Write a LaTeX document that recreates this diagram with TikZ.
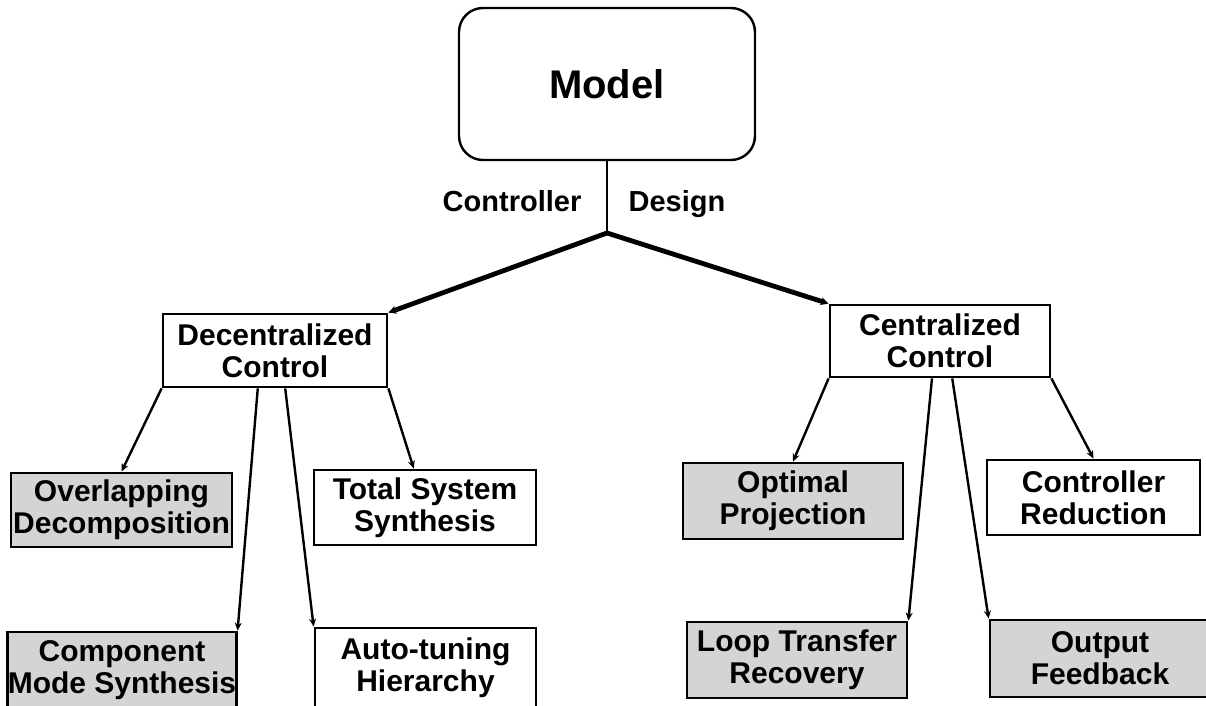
\documentclass[tikz,border=0pt]{standalone}
\usepackage{fontspec}
\setmainfont{Liberation Sans}
\usetikzlibrary{arrows.meta,calc}

\tikzset{
  boks/.style={draw, line width=1.4pt, inner sep=0pt, align=center,
    font=\bfseries\fontsize{15}{16}\selectfont},
  skyggeboks/.style={boks, fill=black!17},
  etikett/.style={anchor=base, font=\bfseries\fontsize{14.5}{16}\selectfont},
  pil/.style={line width=1.2pt, -{Stealth[length=4pt,width=3.5pt]}},
  tykkpil/.style={line width=2.4pt, -{Stealth[length=4pt,width=4pt]}}
}

\begin{document}
\begin{tikzpicture}[x=0.5pt,y=-0.5pt]
  \useasboundingbox (0,0) rectangle (1206,706);

  % Modellen
  \node[draw, line width=1.2pt, rounded corners=12pt, minimum width=148pt,
        minimum height=76pt, font=\bfseries\fontsize{20}{22}\selectfont]
        (model) at (607,84) {Model};
  \coordinate (knekk) at (607,233);
  \draw[line width=1pt] (model.south) -- (knekk);
  \node[etikett] (controller) at (512,212) {Controller};
  \node[etikett] (design) at (677,212) {Design};

  % Desentralisert og sentralisert
  \node[boks, minimum width=112pt, minimum height=36.5pt] (dec) at (275,350.5)
        {Decentralized\\Control};
  \node[boks, minimum width=110pt, minimum height=36pt] (cen) at (940,341)
        {Centralized\\Control};
  \draw[tykkpil] (knekk) -- (dec.north east);
  \draw[tykkpil] (knekk) -- (cen.north west);

  % Boksene under desentralisert
  \node[skyggeboks, minimum width=110.5pt, minimum height=37pt] (ovl) at (121.5,510)
        {Overlapping\\Decomposition};
  \node[boks, minimum width=111pt, minimum height=37.5pt] (tot) at (425,507.5)
        {Total System\\Synthesis};
  \node[skyggeboks, minimum width=110pt, minimum height=38pt] (cms) at (122,670)
        {Component\\Mode Synthesis};
  \node[boks, minimum width=110.5pt, minimum height=40pt] (aut) at (425.5,668)
        {Auto-tuning\\Hierarchy};

  % Boksene under sentralisert
  \node[skyggeboks, minimum width=110pt, minimum height=38pt] (opt) at (793,501)
        {Optimal\\Projection};
  \node[boks, minimum width=106.5pt, minimum height=37.5pt] (red) at (1093.5,497.5)
        {Controller\\Reduction};
  \node[skyggeboks, minimum width=110pt, minimum height=38pt] (ltr) at (797,660)
        {Loop Transfer\\Recovery};
  \node[skyggeboks, minimum width=110pt, minimum height=38.5pt] (out) at (1100,658.5)
        {Output\\Feedback};

  % Pilene
  \draw[pil] (dec.south west) -- (ovl.north);
  \draw[pil] ($(dec.south west)!0.424!(dec.south east)$) -- (cms.north east);
  \draw[pil] ($(dec.south west)!0.545!(dec.south east)$) -- (aut.north west);
  \draw[pil] (dec.south east) -- ($(tot.north west)!0.45!(tot.north east)$);

  \draw[pil] (cen.south west) -- (opt.north);
  \draw[pil] ($(cen.south west)!0.464!(cen.south east)$) -- (ltr.north east);
  \draw[pil] ($(cen.south west)!0.555!(cen.south east)$) -- (out.north west);
  \draw[pil] (cen.south east) -- (red.north);
\end{tikzpicture}
\end{document}
